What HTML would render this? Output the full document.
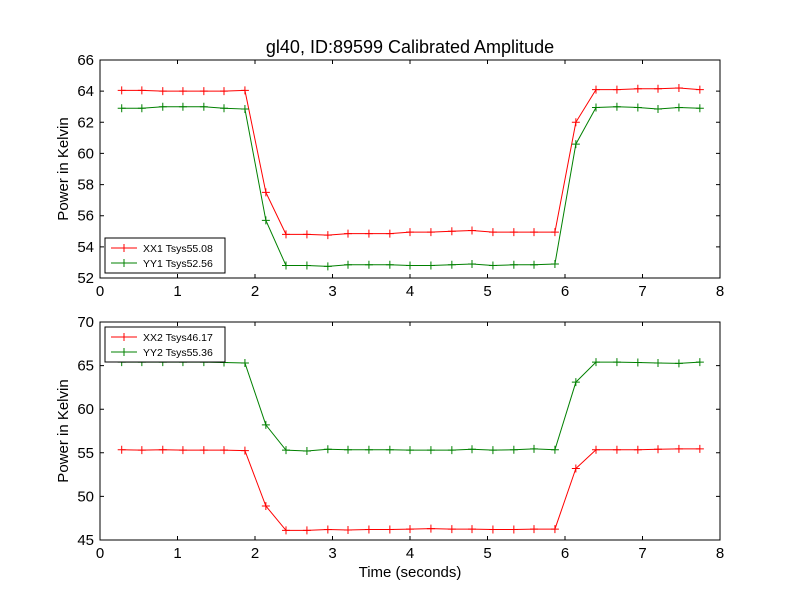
<!DOCTYPE html>
<html><head><meta charset="utf-8"><style>body{margin:0;background:#fff}svg{display:block;font-family:"Liberation Sans","DejaVu Sans",sans-serif}</style></head>
<body>
<svg id="chart" width="800" height="600" xmlns="http://www.w3.org/2000/svg">
<rect width="800" height="600" fill="#fff"/>
<text x="410" y="53" font-size="18" text-anchor="middle">gl40, ID:89599 Calibrated Amplitude</text>
<g id="top"></g><g id="bot"></g>
<text x="410" y="577" font-size="15" text-anchor="middle">Time (seconds)</text>
</svg>
<script>
const times=[0.28,0.54,0.81,1.07,1.34,1.6,1.87,2.14,2.4,2.67,2.94,3.2,3.47,3.74,4.0,4.27,4.54,4.8,5.07,5.34,5.6,5.87,6.14,6.4,6.67,6.94,7.2,7.47,7.74];
const xx1=[64.05,64.05,64.0,64.0,64.0,64.0,64.05,57.5,54.8,54.8,54.75,54.85,54.85,54.85,54.95,54.95,55.0,55.05,54.95,54.95,54.95,54.95,62.0,64.1,64.1,64.15,64.15,64.2,64.1];
const yy1=[62.9,62.9,63.0,63.0,63.0,62.9,62.85,55.7,52.8,52.8,52.75,52.85,52.85,52.85,52.8,52.8,52.85,52.9,52.8,52.85,52.85,52.9,60.6,62.95,63.0,62.95,62.85,62.95,62.9];
const xx2=[55.35,55.3,55.35,55.3,55.3,55.3,55.25,48.9,46.1,46.1,46.2,46.15,46.2,46.2,46.25,46.3,46.25,46.25,46.2,46.2,46.25,46.25,53.2,55.35,55.35,55.35,55.4,55.45,55.45];
const yy2=[65.4,65.4,65.4,65.4,65.4,65.35,65.3,58.2,55.3,55.2,55.4,55.35,55.35,55.35,55.3,55.3,55.3,55.4,55.3,55.35,55.45,55.35,63.1,65.4,65.4,65.35,65.3,65.25,65.4];
const xTicks=[0,1,2,3,4,5,6,7,8];
const topYTicks=[52,54,56,58,60,62,64,66];
const botYTicks=[45,50,55,60,65,70];
const NS="http://www.w3.org/2000/svg";
function mk(p,t,a){const e=document.createElementNS(NS,t);for(const k in a)e.setAttribute(k,a[k]);p.appendChild(e);return e;}
function panel(g,top,bottom,ymin,ymax,yt,series,legend,name){
 const L=100,R=720;
 const sx=v=>L+(v-0)/8*(R-L), sy=v=>bottom-(v-ymin)/(ymax-ymin)*(bottom-top);
 series.forEach(s=>{
  const pl=mk(g,'polyline',{points:s.d.map((v,i)=>sx(times[i])+','+sy(v)).join(' '),fill:'none',stroke:s.c,'stroke-width':1});
  
  
  s.d.forEach((v,i)=>{const x=sx(times[i]),y=sy(v);
   const m=mk(g,'path',{d:`M${x-4},${y}H${x+4}M${x},${y-4}V${y+4}`,stroke:s.c,'stroke-width':1});
   
   });
 });
 const fr=mk(g,'rect',{x:L,y:top,width:R-L,height:bottom-top,fill:'none',stroke:'#000','stroke-width':1});
 
 
 xTicks.forEach(t=>{const x=sx(t);
  mk(g,'path',{d:`M${x},${bottom}v-4M${x},${top}v4`,stroke:'#000'});
  const tx=mk(g,'text',{x:x,y:bottom+18,'font-size':15,'text-anchor':'middle'});tx.textContent=t;
  
  });
 yt.forEach(t=>{const y=sy(t);
  mk(g,'path',{d:`M${L},${y}h4M${R},${y}h-4`,stroke:'#000'});
  const tx=mk(g,'text',{x:L-6,y:y+5,'font-size':15,'text-anchor':'end'});tx.textContent=t;
  
  });
 const yl=mk(g,'text',{x:0,y:0,'font-size':15,'text-anchor':'middle',transform:`translate(68,${(top+bottom)/2}) rotate(-90)`});yl.textContent='Power in Kelvin';
 
 
 const lg=mk(g,'g',{});
 
 
 mk(lg,'rect',{x:legend.x,y:legend.y,width:120,height:35,fill:'#fff',stroke:'#000'});
 series.forEach((s,i)=>{const y=legend.y+10+i*15,x=legend.x+6;
  mk(lg,'path',{d:`M${x},${y}h26M${x+13-4},${y}h8M${x+13},${y-4}v8`,stroke:s.c});
  const t=mk(lg,'text',{x:x+32,y:y+4,'font-size':10.5});t.textContent=s.label;
  
  });
}
panel(document.getElementById('top'),60,278,52,66,topYTicks,[{d:xx1,c:'#ff0000',n:'xx1',label:'XX1 Tsys55.08'},{d:yy1,c:'#008000',n:'yy1',label:'YY1 Tsys52.56'}],{x:105,y:238},'top-panel');
panel(document.getElementById('bot'),322,540,45,70,botYTicks,[{d:xx2,c:'#ff0000',n:'xx2',label:'XX2 Tsys46.17'},{d:yy2,c:'#008000',n:'yy2',label:'YY2 Tsys55.36'}],{x:105,y:327},'bottom-panel');
</script>
</body></html>
